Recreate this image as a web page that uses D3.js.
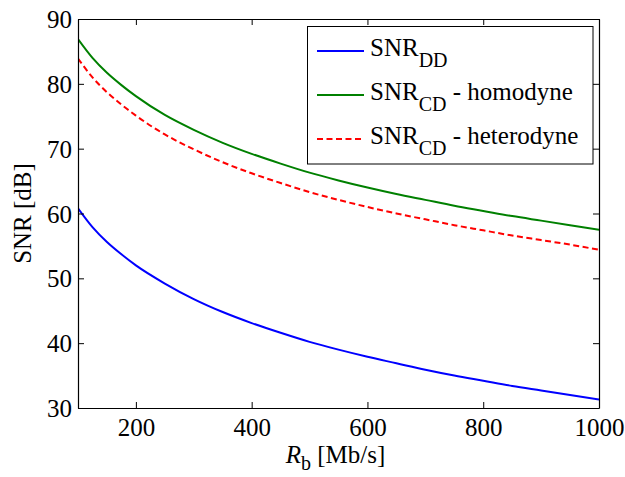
<!DOCTYPE html>
<html>
<head>
<meta charset="utf-8">
<script src="https://cdn.jsdelivr.net/npm/d3@7"></script>
<style>
html,body{margin:0;padding:0;background:#fff;}
svg{display:block;}
</style>
</head>
<body>
<svg id="chart" width="625" height="477"></svg>
<script>
// Data
const rates = [100,125,150,175,200,250,300,350,400,450,500,550,600,650,700,750,800,850,900,950,1000];
const snrDD = [60.8,57.9,55.6,53.7,52.0,49.2,46.8,44.8,43.1,41.6,40.2,39.0,37.9,36.9,35.9,35.0,34.2,33.4,32.7,32.0,31.3];
const snrHomodyne = [86.9,84.0,81.7,79.8,78.1,75.2,72.9,70.9,69.2,67.7,66.3,65.1,64.0,63.0,62.1,61.2,60.4,59.6,58.9,58.2,57.5];
const snrHeterodyne = [83.9,81.0,78.7,76.8,75.1,72.2,69.9,67.9,66.2,64.7,63.3,62.1,61.0,60.0,59.1,58.2,57.4,56.6,55.9,55.2,54.4];
const xTicks = [200,400,600,800,1000];
const yTicks = [30,40,50,60,70,80,90];

const series = [
  {main:"SNR", sub:"DD", rest:"", values:snrDD, color:"#0000ff", dash:null},
  {main:"SNR", sub:"CD", rest:" - homodyne", values:snrHomodyne, color:"#008000", dash:null},
  {main:"SNR", sub:"CD", rest:" - heterodyne", values:snrHeterodyne, color:"#ff0000", dash:"6,3.5"}
];

(function(){
const FONT = "'Liberation Serif'";
const svg = d3.select("#chart");
const L = 78, R = 599, T = 19, B = 408;
const x = d3.scaleLinear().domain([100,1000]).range([L,R]);
const y = d3.scaleLinear().domain([30,90]).range([B,T]);

svg.append("clipPath").attr("id","clip").append("rect")
  .attr("x",L).attr("y",T).attr("width",R-L).attr("height",B-T);

const line = d3.line().x((d,i)=>x(rates[i])).y(d=>y(d)).curve(d3.curveMonotoneX);
const g = svg.append("g").attr("clip-path","url(#clip)");
series.forEach(s=>{
  g.append("path").datum(s.values).attr("d",line)
    .attr("fill","none").attr("stroke",s.color).attr("stroke-width",2)
    .attr("stroke-dasharray",s.dash);
});

const fs = 25, fsSub = 20;
const fmt = d3.format("d");
const ax = svg.append("g");
const axB = ax.append("g").attr("transform",`translate(0,${B})`)
  .call(d3.axisBottom(x).tickValues(xTicks).tickFormat(fmt).tickSizeInner(-6).tickSizeOuter(0).tickPadding(10));
const axT = ax.append("g").attr("transform",`translate(0,${T})`)
  .call(d3.axisTop(x).tickValues(xTicks).tickSizeInner(-6).tickSizeOuter(0).tickFormat(""));
const axL = ax.append("g").attr("transform",`translate(${L},0)`)
  .call(d3.axisLeft(y).tickValues(yTicks).tickFormat(fmt).tickSizeInner(-6).tickSizeOuter(0).tickPadding(6));
const axR = ax.append("g").attr("transform",`translate(${R},0)`)
  .call(d3.axisRight(y).tickValues(yTicks).tickSizeInner(-6).tickSizeOuter(0).tickFormat(""));
[axB,axT,axL,axR].forEach(a=>{
  a.attr("font-family",null).attr("font-size",null);
  a.selectAll("path").attr("stroke","#000").attr("stroke-width",1.2);
  a.selectAll("line").attr("stroke","#000").attr("stroke-width",1);
  a.selectAll("text").style("font-family",FONT).attr("font-size",fs).attr("fill","#000");
});
axB.selectAll("text").attr("dy","0.72em");
axL.selectAll("text").attr("dy","0.34em");

svg.append("text").attr("transform",`translate(31,${(T+B)/2}) rotate(-90)`)
  .style("font-family",FONT).attr("text-anchor","middle").attr("font-size",fs).text("SNR [dB]");
const xl = svg.append("text").attr("x",(L+R)/2-3).attr("y",463)
  .style("font-family",FONT).attr("text-anchor","middle").attr("font-size",fs);
xl.append("tspan").attr("font-style","italic").text("R");
xl.append("tspan").attr("dy",7).attr("font-size",fsSub).text("b");
xl.append("tspan").attr("dy",-7).text(" [Mb/s]");

const lg = svg.append("g");
lg.append("rect").attr("x",307.5).attr("y",26.5).attr("width",285.5).attr("height",137.5)
  .attr("fill","#fff").attr("stroke","#000").attr("stroke-width",1);
const rowsY = [51,95,139];
series.forEach((s,i)=>{
  const yy = rowsY[i];
  lg.append("line").attr("x1",317).attr("x2",364).attr("y1",yy).attr("y2",yy)
    .attr("stroke",s.color).attr("stroke-width",2).attr("stroke-dasharray",s.dash);
  const t = lg.append("text").attr("x",370).attr("y",yy+5).style("font-family",FONT).attr("font-size",fs);
  t.append("tspan").text(s.main);
  t.append("tspan").attr("dy",11).attr("font-size",fsSub).text(s.sub);
  if (s.rest) t.append("tspan").attr("dy",-11).text(s.rest);
});
})();
</script>
</body>
</html>
